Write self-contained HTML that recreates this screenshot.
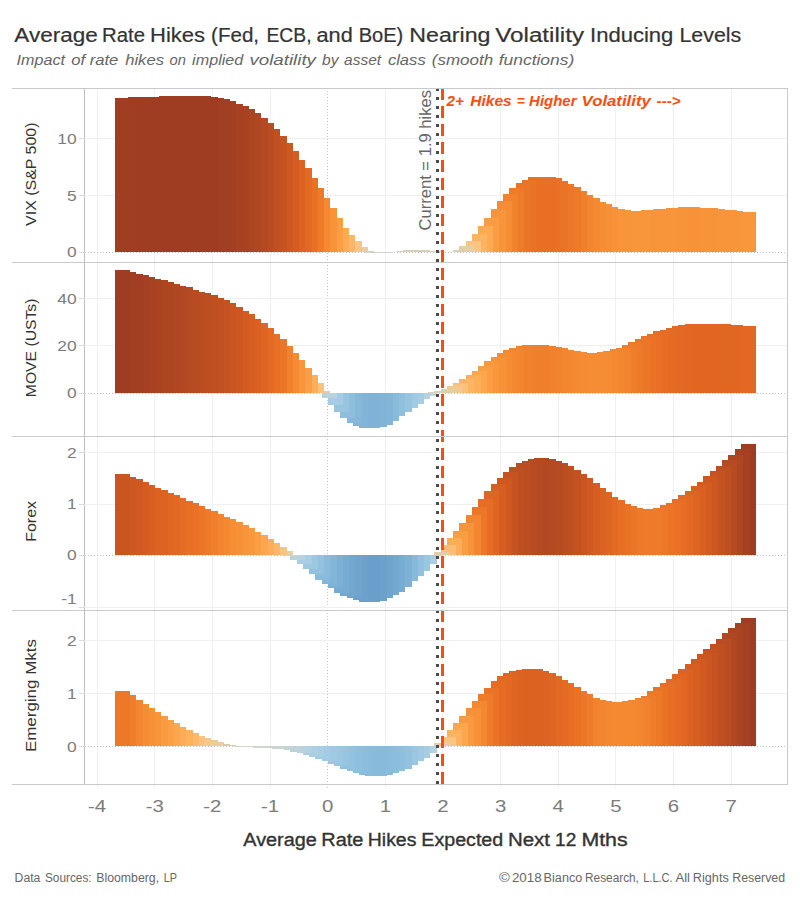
<!DOCTYPE html>
<html><head><meta charset="utf-8"><title>Average Rate Hikes</title>
<style>html,body{margin:0;padding:0;background:#fff;width:800px;height:900px;overflow:hidden;font-family:"Liberation Sans",sans-serif}</style></head>
<body>
<svg width="800" height="900" viewBox="0 0 800 900" style="position:absolute;left:0;top:0;font-family:'Liberation Sans',sans-serif">
<rect width="800" height="900" fill="#fff"/>
<g shape-rendering="crispEdges">
<line x1="97.50" x2="97.50" y1="88.4" y2="788" stroke="#F0F0F0" stroke-width="1"/>
<line x1="154.50" x2="154.50" y1="88.4" y2="788" stroke="#F0F0F0" stroke-width="1"/>
<line x1="212.50" x2="212.50" y1="88.4" y2="788" stroke="#F0F0F0" stroke-width="1"/>
<line x1="270.50" x2="270.50" y1="88.4" y2="788" stroke="#F0F0F0" stroke-width="1"/>
<line x1="385.50" x2="385.50" y1="88.4" y2="788" stroke="#F0F0F0" stroke-width="1"/>
<line x1="442.50" x2="442.50" y1="88.4" y2="788" stroke="#F0F0F0" stroke-width="1"/>
<line x1="500.50" x2="500.50" y1="88.4" y2="788" stroke="#F0F0F0" stroke-width="1"/>
<line x1="558.50" x2="558.50" y1="88.4" y2="788" stroke="#F0F0F0" stroke-width="1"/>
<line x1="615.50" x2="615.50" y1="88.4" y2="788" stroke="#F0F0F0" stroke-width="1"/>
<line x1="673.50" x2="673.50" y1="88.4" y2="788" stroke="#F0F0F0" stroke-width="1"/>
<line x1="731.50" x2="731.50" y1="88.4" y2="788" stroke="#F0F0F0" stroke-width="1"/>
<line x1="327.50" x2="327.50" y1="88.4" y2="788" stroke="#C4C4C4" stroke-width="1" stroke-dasharray="1 2"/>
<line x1="84.6" x2="787.5" y1="138.4" y2="138.4" stroke="#F0F0F0" stroke-width="1"/>
<line x1="84.6" x2="787.5" y1="195.25" y2="195.25" stroke="#F0F0F0" stroke-width="1"/>
<line x1="84.6" x2="787.5" y1="252.1" y2="252.1" stroke="#C4C4C4" stroke-width="1" stroke-dasharray="1 2"/>
<line x1="84.6" x2="787.5" y1="298.5" y2="298.5" stroke="#F0F0F0" stroke-width="1"/>
<line x1="84.6" x2="787.5" y1="345.3" y2="345.3" stroke="#F0F0F0" stroke-width="1"/>
<line x1="84.6" x2="787.5" y1="393.0" y2="393.0" stroke="#C4C4C4" stroke-width="1" stroke-dasharray="1 2"/>
<line x1="84.6" x2="787.5" y1="452.3" y2="452.3" stroke="#F0F0F0" stroke-width="1"/>
<line x1="84.6" x2="787.5" y1="504" y2="504" stroke="#F0F0F0" stroke-width="1"/>
<line x1="84.6" x2="787.5" y1="555.0" y2="555.0" stroke="#C4C4C4" stroke-width="1" stroke-dasharray="1 2"/>
<line x1="84.6" x2="787.5" y1="607.5" y2="607.5" stroke="#F0F0F0" stroke-width="1"/>
<line x1="84.6" x2="787.5" y1="640.5" y2="640.5" stroke="#F0F0F0" stroke-width="1"/>
<line x1="84.6" x2="787.5" y1="693.3" y2="693.3" stroke="#F0F0F0" stroke-width="1"/>
<line x1="84.6" x2="787.5" y1="746.2" y2="746.2" stroke="#C4C4C4" stroke-width="1" stroke-dasharray="1 2"/>
</g>
<g shape-rendering="crispEdges">
<rect x="741.00" y="212.00" width="15.0" height="40.10" fill="#F9973C"/>
<rect x="734.74" y="212.00" width="15.0" height="40.10" fill="#F9973C"/>
<rect x="728.48" y="211.00" width="15.0" height="41.10" fill="#F8963B"/>
<rect x="722.22" y="210.00" width="15.0" height="42.10" fill="#F8953A"/>
<rect x="715.96" y="210.00" width="15.0" height="42.10" fill="#F8953A"/>
<rect x="709.70" y="209.00" width="15.0" height="43.10" fill="#F89439"/>
<rect x="703.44" y="208.00" width="15.0" height="44.10" fill="#F79339"/>
<rect x="697.18" y="208.00" width="15.0" height="44.10" fill="#F79339"/>
<rect x="690.92" y="208.00" width="15.0" height="44.10" fill="#F79339"/>
<rect x="684.66" y="207.25" width="15.0" height="44.85" fill="#F79238"/>
<rect x="678.40" y="207.25" width="15.0" height="44.85" fill="#F79238"/>
<rect x="672.14" y="207.80" width="15.0" height="44.30" fill="#F79338"/>
<rect x="665.88" y="208.25" width="15.0" height="43.85" fill="#F79339"/>
<rect x="659.62" y="208.80" width="15.0" height="43.30" fill="#F89439"/>
<rect x="653.36" y="209.25" width="15.0" height="42.85" fill="#F89439"/>
<rect x="647.10" y="209.80" width="15.0" height="42.30" fill="#F8953A"/>
<rect x="640.84" y="210.25" width="15.0" height="41.85" fill="#F8953A"/>
<rect x="634.58" y="211.00" width="15.0" height="41.10" fill="#F8963B"/>
<rect x="628.32" y="211.00" width="15.0" height="41.10" fill="#F8963B"/>
<rect x="622.06" y="211.00" width="15.0" height="41.10" fill="#F8963B"/>
<rect x="615.80" y="210.00" width="15.0" height="42.10" fill="#F8953A"/>
<rect x="609.54" y="209.00" width="15.0" height="43.10" fill="#F89439"/>
<rect x="603.28" y="207.00" width="15.0" height="45.10" fill="#F79238"/>
<rect x="597.02" y="204.25" width="15.0" height="47.85" fill="#F69036"/>
<rect x="590.76" y="202.00" width="15.0" height="50.10" fill="#F68E34"/>
<rect x="584.50" y="198.25" width="15.0" height="53.85" fill="#F48932"/>
<rect x="578.24" y="195.00" width="15.0" height="57.10" fill="#F2852F"/>
<rect x="571.98" y="191.25" width="15.0" height="60.85" fill="#F07F2C"/>
<rect x="565.72" y="187.00" width="15.0" height="65.10" fill="#ED7A29"/>
<rect x="559.46" y="184.25" width="15.0" height="67.85" fill="#EC7728"/>
<rect x="553.20" y="181.25" width="15.0" height="70.85" fill="#EB7326"/>
<rect x="546.94" y="178.00" width="15.0" height="74.10" fill="#E97024"/>
<rect x="540.68" y="177.00" width="15.0" height="75.10" fill="#E86F24"/>
<rect x="534.42" y="177.00" width="15.0" height="75.10" fill="#E86F24"/>
<rect x="528.16" y="177.00" width="15.0" height="75.10" fill="#E86F24"/>
<rect x="521.90" y="180.00" width="15.0" height="72.10" fill="#EA7225"/>
<rect x="515.64" y="183.10" width="15.0" height="69.00" fill="#EB7527"/>
<rect x="509.38" y="188.10" width="15.0" height="64.00" fill="#EE7B2A"/>
<rect x="503.12" y="194.00" width="15.0" height="58.10" fill="#F1832E"/>
<rect x="496.86" y="201.25" width="15.0" height="50.85" fill="#F58D34"/>
<rect x="490.60" y="209.40" width="15.0" height="42.70" fill="#F8943A"/>
<rect x="484.34" y="218.10" width="15.0" height="34.00" fill="#FA9C43"/>
<rect x="478.08" y="226.25" width="15.0" height="25.85" fill="#FDAA52"/>
<rect x="471.82" y="234.00" width="15.0" height="18.10" fill="#FDB462"/>
<rect x="465.56" y="241.25" width="15.0" height="10.85" fill="#F9C585"/>
<rect x="459.30" y="246.25" width="15.0" height="5.85" fill="#E8CFA2"/>
<rect x="453.04" y="250.00" width="15.0" height="2.10" fill="#D9CEB6"/>
<rect x="446.78" y="251.70" width="15.0" height="0.40" fill="#D9D4C5"/>
<rect x="440.52" y="251.70" width="15.0" height="0.40" fill="#D9D4C5"/>
<rect x="434.26" y="251.70" width="15.0" height="0.40" fill="#D9D4C5"/>
<rect x="428.00" y="251.30" width="15.0" height="0.80" fill="#D9D2C2"/>
<rect x="421.74" y="251.00" width="15.0" height="1.10" fill="#D9D1BF"/>
<rect x="415.48" y="250.00" width="15.0" height="2.10" fill="#D9CEB6"/>
<rect x="409.22" y="250.00" width="15.0" height="2.10" fill="#D9CEB6"/>
<rect x="402.96" y="250.00" width="15.0" height="2.10" fill="#D9CEB6"/>
<rect x="396.70" y="251.00" width="15.0" height="1.10" fill="#D9D1BF"/>
<rect x="390.44" y="251.70" width="15.0" height="0.40" fill="#D9D4C5"/>
<rect x="384.18" y="252.10" width="15.0" height="0.30" fill="#D7D5CA"/>
<rect x="377.92" y="252.10" width="15.0" height="0.90" fill="#D3D5CC"/>
<rect x="371.66" y="252.10" width="15.0" height="0.90" fill="#D3D5CC"/>
<rect x="365.40" y="252.10" width="15.0" height="0.90" fill="#D3D5CC"/>
<rect x="359.14" y="251.00" width="15.0" height="1.10" fill="#D9D1BF"/>
<rect x="352.88" y="247.00" width="15.0" height="5.10" fill="#E5CEA6"/>
<rect x="346.62" y="241.25" width="15.0" height="10.85" fill="#F9C585"/>
<rect x="340.36" y="235.00" width="15.0" height="17.10" fill="#FDB666"/>
<rect x="334.10" y="227.50" width="15.0" height="24.60" fill="#FDAB54"/>
<rect x="327.84" y="218.25" width="15.0" height="33.85" fill="#FA9D43"/>
<rect x="321.58" y="208.25" width="15.0" height="43.85" fill="#F79339"/>
<rect x="315.32" y="198.00" width="15.0" height="54.10" fill="#F48931"/>
<rect x="309.06" y="188.00" width="15.0" height="64.10" fill="#EE7B2A"/>
<rect x="302.80" y="178.25" width="15.0" height="73.85" fill="#E97024"/>
<rect x="296.54" y="168.00" width="15.0" height="84.10" fill="#E26923"/>
<rect x="290.28" y="159.50" width="15.0" height="92.60" fill="#DC6322"/>
<rect x="284.02" y="150.50" width="15.0" height="101.60" fill="#D65D21"/>
<rect x="277.76" y="142.50" width="15.0" height="109.60" fill="#CE5821"/>
<rect x="271.50" y="135.50" width="15.0" height="116.60" fill="#C65321"/>
<rect x="265.24" y="129.25" width="15.0" height="122.85" fill="#C05021"/>
<rect x="258.98" y="123.00" width="15.0" height="129.10" fill="#BA4C22"/>
<rect x="252.72" y="117.50" width="15.0" height="134.60" fill="#B44A22"/>
<rect x="246.46" y="113.00" width="15.0" height="139.10" fill="#AF4722"/>
<rect x="240.20" y="109.25" width="15.0" height="142.85" fill="#AB4522"/>
<rect x="233.94" y="106.25" width="15.0" height="145.85" fill="#A84322"/>
<rect x="227.68" y="103.50" width="15.0" height="148.60" fill="#A64122"/>
<rect x="221.42" y="101.25" width="15.0" height="150.85" fill="#A34022"/>
<rect x="215.16" y="99.25" width="15.0" height="152.85" fill="#A13F22"/>
<rect x="208.90" y="98.00" width="15.0" height="154.10" fill="#A03E22"/>
<rect x="202.64" y="97.00" width="15.0" height="155.10" fill="#9F3D22"/>
<rect x="196.38" y="96.25" width="15.0" height="155.85" fill="#9E3D22"/>
<rect x="190.12" y="96.25" width="15.0" height="155.85" fill="#9E3D22"/>
<rect x="183.86" y="96.25" width="15.0" height="155.85" fill="#9E3D22"/>
<rect x="177.60" y="96.25" width="15.0" height="155.85" fill="#9E3D22"/>
<rect x="171.34" y="96.25" width="15.0" height="155.85" fill="#9E3D22"/>
<rect x="165.08" y="96.25" width="15.0" height="155.85" fill="#9E3D22"/>
<rect x="158.82" y="96.25" width="15.0" height="155.85" fill="#9E3D22"/>
<rect x="152.56" y="96.50" width="15.0" height="155.60" fill="#9E3D22"/>
<rect x="146.30" y="96.60" width="15.0" height="155.50" fill="#9E3D22"/>
<rect x="140.04" y="96.80" width="15.0" height="155.30" fill="#9F3D22"/>
<rect x="133.78" y="97.00" width="15.0" height="155.10" fill="#9F3D22"/>
<rect x="127.52" y="97.00" width="15.0" height="155.10" fill="#9F3D22"/>
<rect x="121.26" y="97.60" width="15.0" height="154.50" fill="#9F3E22"/>
<rect x="115.00" y="98.00" width="15.0" height="154.10" fill="#A03E22"/>
<rect x="741.00" y="326.00" width="15.0" height="67.00" fill="#E26823"/>
<rect x="734.74" y="326.00" width="15.0" height="67.00" fill="#E26823"/>
<rect x="728.48" y="325.25" width="15.0" height="67.75" fill="#E16722"/>
<rect x="722.22" y="324.75" width="15.0" height="68.25" fill="#E06722"/>
<rect x="715.96" y="324.25" width="15.0" height="68.75" fill="#E06622"/>
<rect x="709.70" y="324.25" width="15.0" height="68.75" fill="#E06622"/>
<rect x="703.44" y="324.25" width="15.0" height="68.75" fill="#E06622"/>
<rect x="697.18" y="324.25" width="15.0" height="68.75" fill="#E06622"/>
<rect x="690.92" y="324.25" width="15.0" height="68.75" fill="#E06622"/>
<rect x="684.66" y="324.25" width="15.0" height="68.75" fill="#E06622"/>
<rect x="678.40" y="325.00" width="15.0" height="68.00" fill="#E16722"/>
<rect x="672.14" y="326.25" width="15.0" height="66.75" fill="#E26823"/>
<rect x="665.88" y="328.00" width="15.0" height="65.00" fill="#E36A23"/>
<rect x="659.62" y="329.50" width="15.0" height="63.50" fill="#E56B23"/>
<rect x="653.36" y="331.25" width="15.0" height="61.75" fill="#E66D23"/>
<rect x="647.10" y="334.00" width="15.0" height="59.00" fill="#E86F24"/>
<rect x="640.84" y="336.25" width="15.0" height="56.75" fill="#EA7225"/>
<rect x="634.58" y="339.00" width="15.0" height="54.00" fill="#EC7627"/>
<rect x="628.32" y="341.80" width="15.0" height="51.20" fill="#ED7A29"/>
<rect x="622.06" y="344.50" width="15.0" height="48.50" fill="#EF7E2C"/>
<rect x="615.80" y="347.50" width="15.0" height="45.50" fill="#F2842F"/>
<rect x="609.54" y="349.40" width="15.0" height="43.60" fill="#F38730"/>
<rect x="603.28" y="350.60" width="15.0" height="42.40" fill="#F48932"/>
<rect x="597.02" y="352.10" width="15.0" height="40.90" fill="#F58C33"/>
<rect x="590.76" y="353.00" width="15.0" height="40.00" fill="#F58D34"/>
<rect x="584.50" y="353.00" width="15.0" height="40.00" fill="#F58D34"/>
<rect x="578.24" y="353.00" width="15.0" height="40.00" fill="#F58D34"/>
<rect x="571.98" y="352.25" width="15.0" height="40.75" fill="#F58C33"/>
<rect x="565.72" y="351.25" width="15.0" height="41.75" fill="#F48A32"/>
<rect x="559.46" y="350.00" width="15.0" height="43.00" fill="#F38831"/>
<rect x="553.20" y="348.00" width="15.0" height="45.00" fill="#F2852F"/>
<rect x="546.94" y="346.75" width="15.0" height="46.25" fill="#F1822E"/>
<rect x="540.68" y="345.75" width="15.0" height="47.25" fill="#F0812D"/>
<rect x="534.42" y="345.00" width="15.0" height="48.00" fill="#F07F2C"/>
<rect x="528.16" y="345.00" width="15.0" height="48.00" fill="#F07F2C"/>
<rect x="521.90" y="345.25" width="15.0" height="47.75" fill="#F0802C"/>
<rect x="515.64" y="346.25" width="15.0" height="46.75" fill="#F1812D"/>
<rect x="509.38" y="348.00" width="15.0" height="45.00" fill="#F2852F"/>
<rect x="503.12" y="350.00" width="15.0" height="43.00" fill="#F38831"/>
<rect x="496.86" y="353.25" width="15.0" height="39.75" fill="#F58D34"/>
<rect x="490.60" y="357.00" width="15.0" height="36.00" fill="#F79237"/>
<rect x="484.34" y="361.25" width="15.0" height="31.75" fill="#F8973C"/>
<rect x="478.08" y="366.25" width="15.0" height="26.75" fill="#FA9D43"/>
<rect x="471.82" y="371.00" width="15.0" height="22.00" fill="#FCA64E"/>
<rect x="465.56" y="375.00" width="15.0" height="18.00" fill="#FDAE58"/>
<rect x="459.30" y="379.25" width="15.0" height="13.75" fill="#FDB564"/>
<rect x="453.04" y="383.00" width="15.0" height="10.00" fill="#FAC17C"/>
<rect x="446.78" y="386.25" width="15.0" height="6.75" fill="#F1CA93"/>
<rect x="440.52" y="389.25" width="15.0" height="3.75" fill="#E4CEA8"/>
<rect x="434.26" y="391.25" width="15.0" height="1.75" fill="#D9CDB5"/>
<rect x="428.00" y="392.20" width="15.0" height="0.80" fill="#D9D2C0"/>
<rect x="421.74" y="393.00" width="15.0" height="2.50" fill="#C5D5D5"/>
<rect x="415.48" y="393.00" width="15.0" height="5.75" fill="#B6D2DE"/>
<rect x="409.22" y="393.00" width="15.0" height="10.75" fill="#A7CDE3"/>
<rect x="402.96" y="393.00" width="15.0" height="14.50" fill="#9FCAE3"/>
<rect x="396.70" y="393.00" width="15.0" height="19.00" fill="#97C5E0"/>
<rect x="390.44" y="393.00" width="15.0" height="23.25" fill="#8FC0DE"/>
<rect x="384.18" y="393.00" width="15.0" height="27.50" fill="#89BBDB"/>
<rect x="377.92" y="393.00" width="15.0" height="32.00" fill="#82B5D8"/>
<rect x="371.66" y="393.00" width="15.0" height="33.75" fill="#80B3D6"/>
<rect x="365.40" y="393.00" width="15.0" height="34.50" fill="#7FB2D6"/>
<rect x="359.14" y="393.00" width="15.0" height="34.50" fill="#7FB2D6"/>
<rect x="352.88" y="393.00" width="15.0" height="33.00" fill="#81B4D7"/>
<rect x="346.62" y="393.00" width="15.0" height="30.00" fill="#85B8D9"/>
<rect x="340.36" y="393.00" width="15.0" height="24.50" fill="#8DBFDD"/>
<rect x="334.10" y="393.00" width="15.0" height="19.00" fill="#97C5E0"/>
<rect x="327.84" y="393.00" width="15.0" height="12.00" fill="#A4CCE4"/>
<rect x="321.58" y="393.00" width="15.0" height="5.00" fill="#BAD2DC"/>
<rect x="315.32" y="391.25" width="15.0" height="1.75" fill="#D9CDB5"/>
<rect x="309.06" y="383.00" width="15.0" height="10.00" fill="#FAC17C"/>
<rect x="302.80" y="375.25" width="15.0" height="17.75" fill="#FDAE59"/>
<rect x="296.54" y="367.50" width="15.0" height="25.50" fill="#FB9F46"/>
<rect x="290.28" y="360.25" width="15.0" height="32.75" fill="#F8953B"/>
<rect x="284.02" y="352.50" width="15.0" height="40.50" fill="#F58C33"/>
<rect x="277.76" y="346.25" width="15.0" height="46.75" fill="#F1812D"/>
<rect x="271.50" y="339.25" width="15.0" height="53.75" fill="#EC7627"/>
<rect x="265.24" y="333.50" width="15.0" height="59.50" fill="#E86F24"/>
<rect x="258.98" y="328.25" width="15.0" height="64.75" fill="#E36A23"/>
<rect x="252.72" y="323.25" width="15.0" height="69.75" fill="#DF6522"/>
<rect x="246.46" y="318.50" width="15.0" height="74.50" fill="#DB6122"/>
<rect x="240.20" y="314.25" width="15.0" height="78.75" fill="#D75E21"/>
<rect x="233.94" y="310.50" width="15.0" height="82.50" fill="#D35B21"/>
<rect x="227.68" y="306.50" width="15.0" height="86.50" fill="#CE5721"/>
<rect x="221.42" y="303.25" width="15.0" height="89.75" fill="#C95521"/>
<rect x="215.16" y="300.25" width="15.0" height="92.75" fill="#C55321"/>
<rect x="208.90" y="297.50" width="15.0" height="95.50" fill="#C25121"/>
<rect x="202.64" y="295.25" width="15.0" height="97.75" fill="#BF4F21"/>
<rect x="196.38" y="293.25" width="15.0" height="99.75" fill="#BC4E22"/>
<rect x="190.12" y="291.50" width="15.0" height="101.50" fill="#BA4D22"/>
<rect x="183.86" y="289.50" width="15.0" height="103.50" fill="#B74B22"/>
<rect x="177.60" y="287.25" width="15.0" height="105.75" fill="#B44A22"/>
<rect x="171.34" y="285.50" width="15.0" height="107.50" fill="#B24822"/>
<rect x="165.08" y="283.75" width="15.0" height="109.25" fill="#B04722"/>
<rect x="158.82" y="282.25" width="15.0" height="110.75" fill="#AE4622"/>
<rect x="152.56" y="280.25" width="15.0" height="112.75" fill="#AB4522"/>
<rect x="146.30" y="278.50" width="15.0" height="114.50" fill="#A94322"/>
<rect x="140.04" y="277.25" width="15.0" height="115.75" fill="#A74222"/>
<rect x="133.78" y="275.25" width="15.0" height="117.75" fill="#A54122"/>
<rect x="127.52" y="273.50" width="15.0" height="119.50" fill="#A23F22"/>
<rect x="121.26" y="272.00" width="15.0" height="121.00" fill="#A03E22"/>
<rect x="115.00" y="270.25" width="15.0" height="122.75" fill="#9E3D22"/>
<rect x="741.00" y="444.00" width="15.0" height="111.00" fill="#9E3D22"/>
<rect x="734.74" y="449.00" width="15.0" height="106.00" fill="#A54122"/>
<rect x="728.48" y="455.25" width="15.0" height="99.75" fill="#AE4622"/>
<rect x="722.22" y="460.25" width="15.0" height="94.75" fill="#B64A22"/>
<rect x="715.96" y="466.25" width="15.0" height="88.75" fill="#BE4F21"/>
<rect x="709.70" y="471.25" width="15.0" height="83.75" fill="#C55321"/>
<rect x="703.44" y="476.25" width="15.0" height="78.75" fill="#CD5721"/>
<rect x="697.18" y="482.00" width="15.0" height="73.00" fill="#D55C21"/>
<rect x="690.92" y="486.25" width="15.0" height="68.75" fill="#D96021"/>
<rect x="684.66" y="490.75" width="15.0" height="64.25" fill="#DE6422"/>
<rect x="678.40" y="495.00" width="15.0" height="60.00" fill="#E26823"/>
<rect x="672.14" y="499.00" width="15.0" height="56.00" fill="#E66D23"/>
<rect x="665.88" y="503.25" width="15.0" height="51.75" fill="#EA7125"/>
<rect x="659.62" y="505.00" width="15.0" height="50.00" fill="#EB7426"/>
<rect x="653.36" y="507.50" width="15.0" height="47.50" fill="#ED7828"/>
<rect x="647.10" y="509.00" width="15.0" height="46.00" fill="#EE7A2A"/>
<rect x="640.84" y="509.00" width="15.0" height="46.00" fill="#EE7A2A"/>
<rect x="634.58" y="509.00" width="15.0" height="46.00" fill="#EE7A2A"/>
<rect x="628.32" y="508.25" width="15.0" height="46.75" fill="#ED7929"/>
<rect x="622.06" y="506.25" width="15.0" height="48.75" fill="#EC7627"/>
<rect x="615.80" y="503.90" width="15.0" height="51.10" fill="#EA7225"/>
<rect x="609.54" y="500.10" width="15.0" height="54.90" fill="#E76E24"/>
<rect x="603.28" y="497.00" width="15.0" height="58.00" fill="#E46A23"/>
<rect x="597.02" y="492.25" width="15.0" height="62.75" fill="#DF6622"/>
<rect x="590.76" y="488.25" width="15.0" height="66.75" fill="#DB6222"/>
<rect x="584.50" y="482.90" width="15.0" height="72.10" fill="#D65D21"/>
<rect x="578.24" y="478.20" width="15.0" height="76.80" fill="#D05921"/>
<rect x="571.98" y="474.25" width="15.0" height="80.75" fill="#CA5521"/>
<rect x="565.72" y="470.00" width="15.0" height="85.00" fill="#C45221"/>
<rect x="559.46" y="466.25" width="15.0" height="88.75" fill="#BE4F21"/>
<rect x="553.20" y="463.25" width="15.0" height="91.75" fill="#BA4D22"/>
<rect x="546.94" y="460.50" width="15.0" height="94.50" fill="#B64B22"/>
<rect x="540.68" y="459.25" width="15.0" height="95.75" fill="#B44A22"/>
<rect x="534.42" y="458.25" width="15.0" height="96.75" fill="#B34922"/>
<rect x="528.16" y="459.25" width="15.0" height="95.75" fill="#B44A22"/>
<rect x="521.90" y="461.25" width="15.0" height="93.75" fill="#B74B22"/>
<rect x="515.64" y="463.25" width="15.0" height="91.75" fill="#BA4D22"/>
<rect x="509.38" y="467.00" width="15.0" height="88.00" fill="#BF4F21"/>
<rect x="503.12" y="472.00" width="15.0" height="83.00" fill="#C65321"/>
<rect x="496.86" y="477.50" width="15.0" height="77.50" fill="#CF5821"/>
<rect x="490.60" y="484.25" width="15.0" height="70.75" fill="#D75E21"/>
<rect x="484.34" y="491.25" width="15.0" height="63.75" fill="#DF6522"/>
<rect x="478.08" y="499.25" width="15.0" height="55.75" fill="#E66D23"/>
<rect x="471.82" y="507.00" width="15.0" height="48.00" fill="#EC7728"/>
<rect x="465.56" y="515.20" width="15.0" height="39.80" fill="#F38630"/>
<rect x="459.30" y="523.25" width="15.0" height="31.75" fill="#F79338"/>
<rect x="453.04" y="531.25" width="15.0" height="23.75" fill="#FA9E44"/>
<rect x="446.78" y="538.25" width="15.0" height="16.75" fill="#FDAD57"/>
<rect x="440.52" y="545.00" width="15.0" height="10.00" fill="#FBBD75"/>
<rect x="434.26" y="552.00" width="15.0" height="3.00" fill="#E1CEAA"/>
<rect x="428.00" y="555.00" width="15.0" height="1.00" fill="#D0D5CE"/>
<rect x="421.74" y="555.00" width="15.0" height="8.75" fill="#A9CEE3"/>
<rect x="415.48" y="555.00" width="15.0" height="15.50" fill="#9AC7E1"/>
<rect x="409.22" y="555.00" width="15.0" height="20.75" fill="#90C1DE"/>
<rect x="402.96" y="555.00" width="15.0" height="26.25" fill="#87B9DA"/>
<rect x="396.70" y="555.00" width="15.0" height="32.00" fill="#7EB1D6"/>
<rect x="390.44" y="555.00" width="15.0" height="36.75" fill="#77ACD3"/>
<rect x="384.18" y="555.00" width="15.0" height="40.00" fill="#73A8D0"/>
<rect x="377.92" y="555.00" width="15.0" height="43.25" fill="#6FA4CE"/>
<rect x="371.66" y="555.00" width="15.0" height="45.50" fill="#6CA1CC"/>
<rect x="365.40" y="555.00" width="15.0" height="46.75" fill="#6B9FCB"/>
<rect x="359.14" y="555.00" width="15.0" height="46.75" fill="#6B9FCB"/>
<rect x="352.88" y="555.00" width="15.0" height="45.25" fill="#6DA1CC"/>
<rect x="346.62" y="555.00" width="15.0" height="43.25" fill="#6FA4CE"/>
<rect x="340.36" y="555.00" width="15.0" height="40.75" fill="#72A7D0"/>
<rect x="334.10" y="555.00" width="15.0" height="37.50" fill="#76ABD3"/>
<rect x="327.84" y="555.00" width="15.0" height="33.25" fill="#7CB0D5"/>
<rect x="321.58" y="555.00" width="15.0" height="28.75" fill="#83B5D8"/>
<rect x="315.32" y="555.00" width="15.0" height="24.50" fill="#89BCDB"/>
<rect x="309.06" y="555.00" width="15.0" height="19.25" fill="#93C2DF"/>
<rect x="302.80" y="555.00" width="15.0" height="14.25" fill="#9DC8E2"/>
<rect x="296.54" y="555.00" width="15.0" height="9.40" fill="#A8CEE3"/>
<rect x="290.28" y="555.00" width="15.0" height="4.50" fill="#BAD2DC"/>
<rect x="284.02" y="555.00" width="15.0" height="0.60" fill="#D4D5CC"/>
<rect x="277.76" y="551.25" width="15.0" height="3.75" fill="#E6CFA5"/>
<rect x="271.50" y="547.00" width="15.0" height="8.00" fill="#F9C483"/>
<rect x="265.24" y="543.25" width="15.0" height="11.75" fill="#FCB769"/>
<rect x="258.98" y="539.00" width="15.0" height="16.00" fill="#FDAE59"/>
<rect x="252.72" y="535.00" width="15.0" height="20.00" fill="#FCA64E"/>
<rect x="246.46" y="532.00" width="15.0" height="23.00" fill="#FB9F46"/>
<rect x="240.20" y="528.25" width="15.0" height="26.75" fill="#F9993F"/>
<rect x="233.94" y="525.00" width="15.0" height="30.00" fill="#F8953A"/>
<rect x="227.68" y="522.25" width="15.0" height="32.75" fill="#F79137"/>
<rect x="221.42" y="519.25" width="15.0" height="35.75" fill="#F68E34"/>
<rect x="215.16" y="516.50" width="15.0" height="38.50" fill="#F48931"/>
<rect x="208.90" y="514.00" width="15.0" height="41.00" fill="#F2842F"/>
<rect x="202.64" y="511.25" width="15.0" height="43.75" fill="#EF7F2C"/>
<rect x="196.38" y="508.50" width="15.0" height="46.50" fill="#ED7929"/>
<rect x="190.12" y="506.25" width="15.0" height="48.75" fill="#EC7627"/>
<rect x="183.86" y="503.25" width="15.0" height="51.75" fill="#EA7125"/>
<rect x="177.60" y="501.00" width="15.0" height="54.00" fill="#E86F24"/>
<rect x="171.34" y="498.25" width="15.0" height="56.75" fill="#E56C23"/>
<rect x="165.08" y="495.25" width="15.0" height="59.75" fill="#E26923"/>
<rect x="158.82" y="493.00" width="15.0" height="62.00" fill="#E06622"/>
<rect x="152.56" y="490.00" width="15.0" height="65.00" fill="#DD6322"/>
<rect x="146.30" y="488.00" width="15.0" height="67.00" fill="#DB6222"/>
<rect x="140.04" y="485.00" width="15.0" height="70.00" fill="#D85F21"/>
<rect x="133.78" y="482.00" width="15.0" height="73.00" fill="#D55C21"/>
<rect x="127.52" y="479.00" width="15.0" height="76.00" fill="#D15921"/>
<rect x="121.26" y="477.00" width="15.0" height="78.00" fill="#CE5821"/>
<rect x="115.00" y="474.00" width="15.0" height="81.00" fill="#C95521"/>
<rect x="741.00" y="618.00" width="15.0" height="128.20" fill="#9E3D22"/>
<rect x="734.74" y="623.00" width="15.0" height="123.20" fill="#A44122"/>
<rect x="728.48" y="628.25" width="15.0" height="117.95" fill="#AB4422"/>
<rect x="722.22" y="633.25" width="15.0" height="112.95" fill="#B14822"/>
<rect x="715.96" y="639.25" width="15.0" height="106.95" fill="#B94C22"/>
<rect x="709.70" y="644.25" width="15.0" height="101.95" fill="#BF4F21"/>
<rect x="703.44" y="649.25" width="15.0" height="96.95" fill="#C55221"/>
<rect x="697.18" y="654.25" width="15.0" height="91.95" fill="#CC5621"/>
<rect x="690.92" y="659.25" width="15.0" height="86.95" fill="#D25A21"/>
<rect x="684.66" y="664.25" width="15.0" height="81.95" fill="#D75E21"/>
<rect x="678.40" y="669.25" width="15.0" height="76.95" fill="#DC6222"/>
<rect x="672.14" y="674.25" width="15.0" height="71.95" fill="#E06622"/>
<rect x="665.88" y="679.25" width="15.0" height="66.95" fill="#E46B23"/>
<rect x="659.62" y="683.25" width="15.0" height="62.95" fill="#E76E24"/>
<rect x="653.36" y="687.00" width="15.0" height="59.20" fill="#EA7225"/>
<rect x="647.10" y="691.25" width="15.0" height="54.95" fill="#ED7828"/>
<rect x="640.84" y="695.50" width="15.0" height="50.70" fill="#EF7E2C"/>
<rect x="634.58" y="698.00" width="15.0" height="48.20" fill="#F1832E"/>
<rect x="628.32" y="700.00" width="15.0" height="46.20" fill="#F38630"/>
<rect x="622.06" y="701.25" width="15.0" height="44.95" fill="#F38831"/>
<rect x="615.80" y="702.00" width="15.0" height="44.20" fill="#F48932"/>
<rect x="609.54" y="702.00" width="15.0" height="44.20" fill="#F48932"/>
<rect x="603.28" y="702.00" width="15.0" height="44.20" fill="#F48932"/>
<rect x="597.02" y="701.00" width="15.0" height="45.20" fill="#F38831"/>
<rect x="590.76" y="699.50" width="15.0" height="46.70" fill="#F2852F"/>
<rect x="584.50" y="697.50" width="15.0" height="48.70" fill="#F1822E"/>
<rect x="578.24" y="694.25" width="15.0" height="51.95" fill="#EE7C2B"/>
<rect x="571.98" y="690.75" width="15.0" height="55.45" fill="#EC7728"/>
<rect x="565.72" y="687.00" width="15.0" height="59.20" fill="#EA7225"/>
<rect x="559.46" y="683.25" width="15.0" height="62.95" fill="#E76E24"/>
<rect x="553.20" y="680.00" width="15.0" height="66.20" fill="#E56B23"/>
<rect x="546.94" y="676.25" width="15.0" height="69.95" fill="#E26823"/>
<rect x="540.68" y="673.00" width="15.0" height="73.20" fill="#DF6522"/>
<rect x="534.42" y="670.75" width="15.0" height="75.45" fill="#DD6322"/>
<rect x="528.16" y="669.25" width="15.0" height="76.95" fill="#DC6222"/>
<rect x="521.90" y="669.25" width="15.0" height="76.95" fill="#DC6222"/>
<rect x="515.64" y="669.50" width="15.0" height="76.70" fill="#DC6222"/>
<rect x="509.38" y="670.50" width="15.0" height="75.70" fill="#DD6322"/>
<rect x="503.12" y="673.00" width="15.0" height="73.20" fill="#DF6522"/>
<rect x="496.86" y="676.25" width="15.0" height="69.95" fill="#E26823"/>
<rect x="490.60" y="681.25" width="15.0" height="64.95" fill="#E66C23"/>
<rect x="484.34" y="687.50" width="15.0" height="58.70" fill="#EA7326"/>
<rect x="478.08" y="694.25" width="15.0" height="51.95" fill="#EE7C2B"/>
<rect x="471.82" y="701.25" width="15.0" height="44.95" fill="#F38831"/>
<rect x="465.56" y="708.10" width="15.0" height="38.10" fill="#F79137"/>
<rect x="459.30" y="716.25" width="15.0" height="29.95" fill="#F99A40"/>
<rect x="453.04" y="723.10" width="15.0" height="23.10" fill="#FCA64E"/>
<rect x="446.78" y="730.25" width="15.0" height="15.95" fill="#FDB25F"/>
<rect x="440.52" y="737.25" width="15.0" height="8.95" fill="#F9C585"/>
<rect x="434.26" y="743.00" width="15.0" height="3.20" fill="#E0CEAC"/>
<rect x="428.00" y="746.20" width="15.0" height="0.40" fill="#D6D5CB"/>
<rect x="421.74" y="746.20" width="15.0" height="6.80" fill="#B3D1E0"/>
<rect x="415.48" y="746.20" width="15.0" height="11.30" fill="#A7CDE3"/>
<rect x="409.22" y="746.20" width="15.0" height="15.05" fill="#9FCAE3"/>
<rect x="402.96" y="746.20" width="15.0" height="18.80" fill="#99C6E1"/>
<rect x="396.70" y="746.20" width="15.0" height="22.55" fill="#92C2DF"/>
<rect x="390.44" y="746.20" width="15.0" height="25.05" fill="#8EC0DD"/>
<rect x="384.18" y="746.20" width="15.0" height="27.05" fill="#8BBDDC"/>
<rect x="377.92" y="746.20" width="15.0" height="28.80" fill="#89BBDB"/>
<rect x="371.66" y="746.20" width="15.0" height="29.30" fill="#88BADB"/>
<rect x="365.40" y="746.20" width="15.0" height="29.30" fill="#88BADB"/>
<rect x="359.14" y="746.20" width="15.0" height="28.30" fill="#89BCDB"/>
<rect x="352.88" y="746.20" width="15.0" height="26.80" fill="#8BBEDC"/>
<rect x="346.62" y="746.20" width="15.0" height="25.05" fill="#8EC0DD"/>
<rect x="340.36" y="746.20" width="15.0" height="22.55" fill="#92C2DF"/>
<rect x="334.10" y="746.20" width="15.0" height="20.05" fill="#97C5E0"/>
<rect x="327.84" y="746.20" width="15.0" height="17.55" fill="#9BC7E1"/>
<rect x="321.58" y="746.20" width="15.0" height="15.05" fill="#9FCAE3"/>
<rect x="315.32" y="746.20" width="15.0" height="12.55" fill="#A4CCE4"/>
<rect x="309.06" y="746.20" width="15.0" height="10.55" fill="#A8CEE3"/>
<rect x="302.80" y="746.20" width="15.0" height="8.80" fill="#ACCFE2"/>
<rect x="296.54" y="746.20" width="15.0" height="6.80" fill="#B3D1E0"/>
<rect x="290.28" y="746.20" width="15.0" height="5.40" fill="#B9D2DC"/>
<rect x="284.02" y="746.20" width="15.0" height="4.05" fill="#BFD4D9"/>
<rect x="277.76" y="746.20" width="15.0" height="3.00" fill="#C3D5D6"/>
<rect x="271.50" y="746.20" width="15.0" height="2.40" fill="#C6D5D4"/>
<rect x="265.24" y="746.20" width="15.0" height="1.90" fill="#CAD5D2"/>
<rect x="258.98" y="746.20" width="15.0" height="1.55" fill="#CDD5D0"/>
<rect x="252.72" y="746.20" width="15.0" height="1.30" fill="#CFD5CF"/>
<rect x="246.46" y="746.20" width="15.0" height="1.05" fill="#D1D5CE"/>
<rect x="240.20" y="746.20" width="15.0" height="0.70" fill="#D4D5CC"/>
<rect x="233.94" y="746.20" width="15.0" height="0.40" fill="#D6D5CB"/>
<rect x="227.68" y="745.50" width="15.0" height="0.70" fill="#D9D2C1"/>
<rect x="221.42" y="744.75" width="15.0" height="1.45" fill="#D9CFB9"/>
<rect x="215.16" y="743.75" width="15.0" height="2.45" fill="#DCCDB1"/>
<rect x="208.90" y="742.00" width="15.0" height="4.20" fill="#E5CEA6"/>
<rect x="202.64" y="740.00" width="15.0" height="6.20" fill="#EECC98"/>
<rect x="196.38" y="738.00" width="15.0" height="8.20" fill="#F6C78A"/>
<rect x="190.12" y="736.25" width="15.0" height="9.95" fill="#FAC27F"/>
<rect x="183.86" y="733.00" width="15.0" height="13.20" fill="#FCB96B"/>
<rect x="177.60" y="730.00" width="15.0" height="16.20" fill="#FDB25E"/>
<rect x="171.34" y="727.00" width="15.0" height="19.20" fill="#FDAD57"/>
<rect x="165.08" y="723.25" width="15.0" height="22.95" fill="#FCA64E"/>
<rect x="158.82" y="720.00" width="15.0" height="26.20" fill="#FBA047"/>
<rect x="152.56" y="716.25" width="15.0" height="29.95" fill="#F99A40"/>
<rect x="146.30" y="712.00" width="15.0" height="34.20" fill="#F8953B"/>
<rect x="140.04" y="708.00" width="15.0" height="38.20" fill="#F79137"/>
<rect x="133.78" y="704.25" width="15.0" height="41.95" fill="#F58D34"/>
<rect x="127.52" y="700.00" width="15.0" height="46.20" fill="#F38630"/>
<rect x="121.26" y="695.00" width="15.0" height="51.20" fill="#EF7D2B"/>
<rect x="115.00" y="691.00" width="15.0" height="55.20" fill="#EC7828"/>
</g>
<g shape-rendering="crispEdges">
<line x1="437.6" x2="437.6" y1="88" y2="784.4" stroke="#4A4A4A" stroke-width="3" stroke-dasharray="3 6"/>
<line x1="442.5" x2="442.5" y1="88" y2="784.4" stroke="#FB4D0C" stroke-width="3" stroke-dasharray="12 6"/>
</g>
<g shape-rendering="crispEdges" stroke="#CACACA" stroke-width="1" fill="none">
<line x1="12.0" x2="787.5" y1="88.4" y2="88.4"/>
<line x1="12.0" x2="787.5" y1="262.2" y2="262.2"/>
<line x1="12.0" x2="787.5" y1="436.4" y2="436.4"/>
<line x1="12.0" x2="787.5" y1="610.5" y2="610.5"/>
<line x1="12.0" x2="787.5" y1="784.4" y2="784.4"/>
<line x1="84.6" x2="84.6" y1="88.4" y2="784.4" stroke="#BDBDBD"/>
<line x1="787.5" x2="787.5" y1="88.4" y2="784.4"/>
<line x1="79" x2="84.6" y1="138.4" y2="138.4" stroke="#DADADA"/>
<line x1="79" x2="84.6" y1="195.25" y2="195.25" stroke="#DADADA"/>
<line x1="79" x2="84.6" y1="252.1" y2="252.1" stroke="#DADADA"/>
<line x1="79" x2="84.6" y1="298.5" y2="298.5" stroke="#DADADA"/>
<line x1="79" x2="84.6" y1="345.3" y2="345.3" stroke="#DADADA"/>
<line x1="79" x2="84.6" y1="393.0" y2="393.0" stroke="#DADADA"/>
<line x1="79" x2="84.6" y1="452.3" y2="452.3" stroke="#DADADA"/>
<line x1="79" x2="84.6" y1="504" y2="504" stroke="#DADADA"/>
<line x1="79" x2="84.6" y1="555.0" y2="555.0" stroke="#DADADA"/>
<line x1="79" x2="84.6" y1="607.5" y2="607.5" stroke="#DADADA"/>
<line x1="79" x2="84.6" y1="640.5" y2="640.5" stroke="#DADADA"/>
<line x1="79" x2="84.6" y1="693.3" y2="693.3" stroke="#DADADA"/>
<line x1="79" x2="84.6" y1="746.2" y2="746.2" stroke="#DADADA"/>
</g>
<text transform="translate(76.6 143.7) scale(1.16 1)" text-anchor="end" font-size="15" fill="#7C7C7C">10</text>
<text transform="translate(76.6 200.6) scale(1.16 1)" text-anchor="end" font-size="15" fill="#7C7C7C">5</text>
<text transform="translate(76.6 257.4) scale(1.16 1)" text-anchor="end" font-size="15" fill="#7C7C7C">0</text>
<text transform="translate(35.7 225.9) rotate(-90)" font-size="15" fill="#333" textLength="103.4" lengthAdjust="spacingAndGlyphs">VIX (S&amp;P 500)</text>
<text transform="translate(76.6 303.8) scale(1.16 1)" text-anchor="end" font-size="15" fill="#7C7C7C">40</text>
<text transform="translate(76.6 350.6) scale(1.16 1)" text-anchor="end" font-size="15" fill="#7C7C7C">20</text>
<text transform="translate(76.6 398.3) scale(1.16 1)" text-anchor="end" font-size="15" fill="#7C7C7C">0</text>
<text transform="translate(35.7 397.2) rotate(-90)" font-size="15" fill="#333" textLength="98.6" lengthAdjust="spacingAndGlyphs">MOVE (USTs)</text>
<text transform="translate(76.6 457.6) scale(1.16 1)" text-anchor="end" font-size="15" fill="#7C7C7C">2</text>
<text transform="translate(76.6 509.3) scale(1.16 1)" text-anchor="end" font-size="15" fill="#7C7C7C">1</text>
<text transform="translate(76.6 560.3) scale(1.16 1)" text-anchor="end" font-size="15" fill="#7C7C7C">0</text>
<text transform="translate(76.6 604.2) scale(1.16 1)" text-anchor="end" font-size="15" fill="#7C7C7C">-1</text>
<text transform="translate(35.7 541.8) rotate(-90)" font-size="15" fill="#333" textLength="40.8" lengthAdjust="spacingAndGlyphs">Forex</text>
<text transform="translate(76.6 645.8) scale(1.16 1)" text-anchor="end" font-size="15" fill="#7C7C7C">2</text>
<text transform="translate(76.6 698.6) scale(1.16 1)" text-anchor="end" font-size="15" fill="#7C7C7C">1</text>
<text transform="translate(76.6 751.5) scale(1.16 1)" text-anchor="end" font-size="15" fill="#7C7C7C">0</text>
<text transform="translate(35.7 752.1) rotate(-90)" font-size="15" fill="#333" textLength="113.0" lengthAdjust="spacingAndGlyphs">Emerging Mkts</text>
<text transform="translate(97.1 812) scale(1.2 1)" text-anchor="middle" font-size="17" fill="#7C7C7C">-4</text>
<text transform="translate(154.7 812) scale(1.2 1)" text-anchor="middle" font-size="17" fill="#7C7C7C">-3</text>
<text transform="translate(212.4 812) scale(1.2 1)" text-anchor="middle" font-size="17" fill="#7C7C7C">-2</text>
<text transform="translate(270.0 812) scale(1.2 1)" text-anchor="middle" font-size="17" fill="#7C7C7C">-1</text>
<text transform="translate(327.6 812) scale(1.2 1)" text-anchor="middle" font-size="17" fill="#7C7C7C">0</text>
<text transform="translate(385.3 812) scale(1.2 1)" text-anchor="middle" font-size="17" fill="#7C7C7C">1</text>
<text transform="translate(442.9 812) scale(1.2 1)" text-anchor="middle" font-size="17" fill="#7C7C7C">2</text>
<text transform="translate(500.6 812) scale(1.2 1)" text-anchor="middle" font-size="17" fill="#7C7C7C">3</text>
<text transform="translate(558.2 812) scale(1.2 1)" text-anchor="middle" font-size="17" fill="#7C7C7C">4</text>
<text transform="translate(615.8 812) scale(1.2 1)" text-anchor="middle" font-size="17" fill="#7C7C7C">5</text>
<text transform="translate(673.5 812) scale(1.2 1)" text-anchor="middle" font-size="17" fill="#7C7C7C">6</text>
<text transform="translate(731.1 812) scale(1.2 1)" text-anchor="middle" font-size="17" fill="#7C7C7C">7</text>
<text x="243.3" y="845.7" font-size="18" fill="#333" stroke="#333" stroke-width="0.35" textLength="73.5" lengthAdjust="spacingAndGlyphs">Average</text>
<text x="321.3" y="845.7" font-size="18" fill="#333" stroke="#333" stroke-width="0.35" textLength="42.1" lengthAdjust="spacingAndGlyphs">Rate</text>
<text x="367.8" y="845.7" font-size="18" fill="#333" stroke="#333" stroke-width="0.35" textLength="48.6" lengthAdjust="spacingAndGlyphs">Hikes</text>
<text x="421.3" y="845.7" font-size="18" fill="#333" stroke="#333" stroke-width="0.35" textLength="81.9" lengthAdjust="spacingAndGlyphs">Expected</text>
<text x="507.9" y="845.7" font-size="18" fill="#333" stroke="#333" stroke-width="0.35" textLength="42.1" lengthAdjust="spacingAndGlyphs">Next</text>
<text x="555.1" y="845.7" font-size="18" fill="#333" stroke="#333" stroke-width="0.35" textLength="21.2" lengthAdjust="spacingAndGlyphs">12</text>
<text x="581.4" y="845.7" font-size="18" fill="#333" stroke="#333" stroke-width="0.35" textLength="46.2" lengthAdjust="spacingAndGlyphs">Mths</text>
<text x="14.3" y="42" font-size="20" fill="#333" stroke="#333" stroke-width="0.2" textLength="83.5" lengthAdjust="spacingAndGlyphs">Average</text>
<text x="102.0" y="42" font-size="20" fill="#333" stroke="#333" stroke-width="0.2" textLength="43.0" lengthAdjust="spacingAndGlyphs">Rate</text>
<text x="150.0" y="42" font-size="20" fill="#333" stroke="#333" stroke-width="0.2" textLength="55.1" lengthAdjust="spacingAndGlyphs">Hikes</text>
<text x="211.1" y="42" font-size="20" fill="#333" stroke="#333" stroke-width="0.2" textLength="48.0" lengthAdjust="spacingAndGlyphs">(Fed,</text>
<text x="266.5" y="42" font-size="20" fill="#333" stroke="#333" stroke-width="0.2" textLength="45.0" lengthAdjust="spacingAndGlyphs">ECB,</text>
<text x="316.5" y="42" font-size="20" fill="#333" stroke="#333" stroke-width="0.2" textLength="36.2" lengthAdjust="spacingAndGlyphs">and</text>
<text x="358.7" y="42" font-size="20" fill="#333" stroke="#333" stroke-width="0.2" textLength="44.6" lengthAdjust="spacingAndGlyphs">BoE)</text>
<text x="409.3" y="42" font-size="20" fill="#333" stroke="#333" stroke-width="0.2" textLength="81.1" lengthAdjust="spacingAndGlyphs">Nearing</text>
<text x="495.3" y="42" font-size="20" fill="#333" stroke="#333" stroke-width="0.2" textLength="88.7" lengthAdjust="spacingAndGlyphs">Volatility</text>
<text x="590.0" y="42" font-size="20" fill="#333" stroke="#333" stroke-width="0.2" textLength="83.4" lengthAdjust="spacingAndGlyphs">Inducing</text>
<text x="679.4" y="42" font-size="20" fill="#333" stroke="#333" stroke-width="0.2" textLength="61.9" lengthAdjust="spacingAndGlyphs">Levels</text>
<text x="16.6" y="65.4" font-size="15" font-style="italic" fill="#666" textLength="48.5" lengthAdjust="spacingAndGlyphs">Impact</text>
<text x="71.2" y="65.4" font-size="15" font-style="italic" fill="#666" textLength="47.2" lengthAdjust="spacingAndGlyphs">of rate</text>
<text x="125.2" y="65.4" font-size="15" font-style="italic" fill="#666" textLength="38.8" lengthAdjust="spacingAndGlyphs">hikes</text>
<text x="169.5" y="65.4" font-size="15" font-style="italic" fill="#666" textLength="16.4" lengthAdjust="spacingAndGlyphs">on</text>
<text x="192.1" y="65.4" font-size="15" font-style="italic" fill="#666" textLength="51.2" lengthAdjust="spacingAndGlyphs">implied</text>
<text x="249.4" y="65.4" font-size="15" font-style="italic" fill="#666" textLength="66.6" lengthAdjust="spacingAndGlyphs">volatility</text>
<text x="322.1" y="65.4" font-size="15" font-style="italic" fill="#666" textLength="16.5" lengthAdjust="spacingAndGlyphs">by</text>
<text x="344.1" y="65.4" font-size="15" font-style="italic" fill="#666" textLength="37.0" lengthAdjust="spacingAndGlyphs">asset</text>
<text x="387.9" y="65.4" font-size="15" font-style="italic" fill="#666" textLength="37.8" lengthAdjust="spacingAndGlyphs">class</text>
<text x="431.8" y="65.4" font-size="15" font-style="italic" fill="#666" textLength="61.4" lengthAdjust="spacingAndGlyphs">(smooth</text>
<text x="498.7" y="65.4" font-size="15" font-style="italic" fill="#666" textLength="75.6" lengthAdjust="spacingAndGlyphs">functions)</text>
<text x="446.6" y="106" font-size="15" font-style="italic" font-weight="bold" fill="#FB4D0C" textLength="17.4" lengthAdjust="spacingAndGlyphs">2+</text>
<text x="470.2" y="106" font-size="15" font-style="italic" font-weight="bold" fill="#FB4D0C" textLength="41.5" lengthAdjust="spacingAndGlyphs">Hikes</text>
<text x="516.7" y="106" font-size="15" font-style="italic" font-weight="bold" fill="#FB4D0C" textLength="8.1" lengthAdjust="spacingAndGlyphs">=</text>
<text x="529.1" y="106" font-size="15" font-style="italic" font-weight="bold" fill="#FB4D0C" textLength="47.4" lengthAdjust="spacingAndGlyphs">Higher</text>
<text x="581.6" y="106" font-size="15" font-style="italic" font-weight="bold" fill="#FB4D0C" textLength="69.2" lengthAdjust="spacingAndGlyphs">Volatility</text>
<text x="656.6" y="106" font-size="15" font-style="italic" font-weight="bold" fill="#FB4D0C" textLength="24.2" lengthAdjust="spacingAndGlyphs">---&gt;</text>
<text transform="translate(430.5 230.5) rotate(-90)" font-size="16" fill="#666" textLength="140.5" lengthAdjust="spacingAndGlyphs">Current = 1.9 hikes</text>
<text x="14.6" y="881.6" font-size="12.5" fill="#666" textLength="25.7" lengthAdjust="spacingAndGlyphs">Data</text>
<text x="45.0" y="881.6" font-size="12.5" fill="#666" textLength="46.6" lengthAdjust="spacingAndGlyphs">Sources:</text>
<text x="96.3" y="881.6" font-size="12.5" fill="#666" textLength="62.8" lengthAdjust="spacingAndGlyphs">Bloomberg,</text>
<text x="163.8" y="881.6" font-size="12.5" fill="#666" textLength="13.2" lengthAdjust="spacingAndGlyphs">LP</text>
<text x="499.1" y="881.5" font-size="12.5" fill="#666" textLength="10.8" lengthAdjust="spacingAndGlyphs">©</text>
<text x="511.9" y="881.5" font-size="12.5" fill="#666" textLength="29.7" lengthAdjust="spacingAndGlyphs">2018</text>
<text x="543.6" y="881.5" font-size="12.5" fill="#666" textLength="38.7" lengthAdjust="spacingAndGlyphs">Bianco</text>
<text x="585.1" y="881.5" font-size="12.5" fill="#666" textLength="53.8" lengthAdjust="spacingAndGlyphs">Research,</text>
<text x="643.2" y="881.5" font-size="12.5" fill="#666" textLength="29.4" lengthAdjust="spacingAndGlyphs">L.L.C.</text>
<text x="675.4" y="881.5" font-size="12.5" fill="#666" textLength="14.6" lengthAdjust="spacingAndGlyphs">All</text>
<text x="692.8" y="881.5" font-size="12.5" fill="#666" textLength="36.0" lengthAdjust="spacingAndGlyphs">Rights</text>
<text x="732.3" y="881.5" font-size="12.5" fill="#666" textLength="52.7" lengthAdjust="spacingAndGlyphs">Reserved</text>
</svg>
</body></html>
